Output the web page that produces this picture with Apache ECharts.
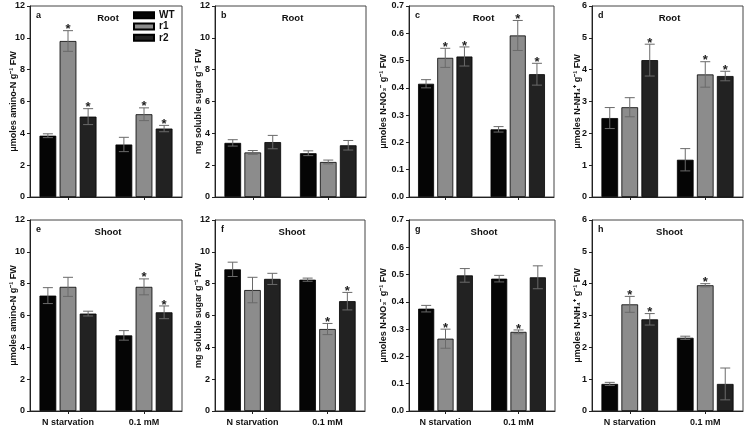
<!DOCTYPE html>
<html><head><meta charset="utf-8">
<script src="https://cdn.jsdelivr.net/npm/echarts@6/dist/echarts.min.js"></script>
<style>html,body{margin:0;padding:0;background:#fff}#c{width:745px;height:430px}</style>
</head><body><div id="c"></div>
<script>
const categories = ['N starvation', '0.1 mM'];
const seriesNames = ['WT', 'r1', 'r2'];
// means per series [WT, r1, r2], each [N starvation, 0.1 mM]
const aMean = [[3.85, 3.3], [9.8, 5.2], [5.05, 4.3]];
const aErr  = [[0.12, 0.45], [0.65, 0.4], [0.5, 0.2]];
const aStar = [[0, 0], [1, 1], [1, 1]];
const bMean = [[3.4, 2.75], [2.8, 2.2], [3.45, 3.25]];
const bErr  = [[0.2, 0.15], [0.12, 0.12], [0.42, 0.3]];
const bStar = [[0, 0], [0, 0], [0, 0]];
const cMean = [[0.415, 0.248], [0.51, 0.592], [0.515, 0.45]];
const cErr  = [[0.015, 0.01], [0.035, 0.055], [0.035, 0.04]];
const cStar = [[0, 0], [1, 1], [1, 1]];
const dMean = [[2.48, 1.17], [2.82, 3.85], [4.3, 3.8]];
const dErr  = [[0.33, 0.35], [0.3, 0.4], [0.5, 0.15]];
const dStar = [[0, 0], [0, 1], [1, 1]];
const eMean = [[7.25, 4.75], [7.8, 7.8], [6.12, 6.2]];
const eErr  = [[0.5, 0.3], [0.6, 0.5], [0.15, 0.4]];
const eStar = [[0, 0], [0, 1], [0, 1]];
const fMean = [[8.9, 8.25], [7.6, 5.15], [8.3, 6.9]];
const fErr  = [[0.45, 0.1], [0.8, 0.35], [0.35, 0.55]];
const fStar = [[0, 0], [0, 1], [0, 1]];
const gMean = [[0.375, 0.485], [0.265, 0.29], [0.497, 0.49]];
const gErr  = [[0.012, 0.012], [0.035, 0.007], [0.025, 0.042]];
const gStar = [[0, 0], [1, 1], [0, 0]];
const hMean = [[0.85, 2.3], [3.35, 3.95], [2.88, 0.85]];
const hErr  = [[0.05, 0.05], [0.25, 0.05], [0.18, 0.5]];
const hStar = [[0, 0], [1, 1], [1, 0]];

const FONT = "'Liberation Sans', Arial, sans-serif";
const barColors = ['#050505', '#8c8c8c', '#222222'];
const panels = [
  {letter:'a', title:'Root',  mean:aMean, err:aErr, star:aStar, max:12,  interval:2,   dec:0, name:'μmoles amino-N g⁻¹ FW',   left:30,  width:152, top:6,   gap:12},
  {letter:'b', title:'Root',  mean:bMean, err:bErr, star:bStar, max:12,  interval:2,   dec:0, name:'mg soluble sugar g⁻¹ FW', left:215, width:151, top:6,   gap:12},
  {letter:'c', title:'Root',  mean:cMean, err:cErr, star:cStar, max:0.7, interval:0.1, dec:1, name:'μmoles N-NO₃⁻ g⁻¹ FW',    left:409, width:145, top:6,   gap:21},
  {letter:'d', title:'Root',  mean:dMean, err:dErr, star:dStar, max:6,   interval:1,   dec:0, name:'μmoles N-NH₄⁺ g⁻¹ FW',    left:592, width:151, top:6,   gap:10},
  {letter:'e', title:'Shoot', mean:eMean, err:eErr, star:eStar, max:12,  interval:2,   dec:0, name:'μmoles amino-N g⁻¹ FW',   left:30,  width:152, top:220, gap:12},
  {letter:'f', title:'Shoot', mean:fMean, err:fErr, star:fStar, max:12,  interval:2,   dec:0, name:'mg soluble sugar g⁻¹ FW', left:215, width:150, top:220, gap:12},
  {letter:'g', title:'Shoot', mean:gMean, err:gErr, star:gStar, max:0.7, interval:0.1, dec:1, name:'μmoles N-NO₃⁻ g⁻¹ FW',    left:409, width:146, top:220, gap:21},
  {letter:'h', title:'Shoot', mean:hMean, err:hErr, star:hStar, max:6,   interval:1,   dec:0, name:'μmoles N-NH₄⁺ g⁻¹ FW',    left:592, width:151, top:220, gap:10}
];
const PH = 191;
const CAT_GAP = 0.25, BAR_GAP = 0.2;

const grid = [], xAxis = [], yAxis = [], series = [], title = [];
panels.forEach((p, i) => {
  grid.push({left:p.left, top:p.top, width:p.width, height:PH, show:true, borderColor:'#444', borderWidth:1, containLabel:false});
  const bottomRow = p.top > 100;
  xAxis.push({type:'category', gridIndex:i, data:categories,
    axisLine:{lineStyle:{color:'#222', width:1}},
    axisTick:{show:true, alignWithLabel:true, length:3, lineStyle:{color:'#222'}},
    axisLabel:{show:bottomRow, color:'#111', fontFamily:FONT, fontWeight:'bold', fontSize:9, margin:7}});
  yAxis.push({type:'value', gridIndex:i, min:0, max:p.max, interval:p.interval,
    name:p.name, nameLocation:'middle', nameGap:p.gap, nameRotate:90, nameMoveOverlap:false,
    nameTextStyle:{color:'#111', fontFamily:FONT, fontWeight:'bold', fontSize:9},
    splitLine:{show:false},
    axisLine:{show:true, lineStyle:{color:'#222', width:1}},
    axisTick:{show:true, length:3, lineStyle:{color:'#222'}},
    axisLabel:{color:'#111', fontFamily:FONT, fontWeight:'bold', fontSize:9, margin:5,
      formatter: v => v.toFixed(p.dec)}});
  seriesNames.forEach((sn, s) => {
    series.push({type:'bar', name:sn, xAxisIndex:i, yAxisIndex:i, data:p.mean[s],
      barCategoryGap:(CAT_GAP*100)+'%', barGap:(BAR_GAP*100)+'%',
      itemStyle:{color:barColors[s], borderColor:'#000', borderWidth:0.8}, silent:true});
  });
  const errData = [];
  seriesNames.forEach((sn, s) => {
    categories.forEach((c, k) => {
      errData.push([k, p.mean[s][k], p.err[s][k], s, p.star[s][k]]);
    });
  });
  series.push({type:'custom', xAxisIndex:i, yAxisIndex:i, data:errData, z:5, silent:true,
    encode:{x:0, y:1},
    renderItem:(params, api) => {
      const k = api.value(0), v = api.value(1), e = api.value(2), s = api.value(3), st = api.value(4);
      const band = api.size([1, 0])[0];
      const bw = band * (1 - CAT_GAP) / (3 + 2 * BAR_GAP);
      const cx = api.coord([k, 0])[0] + (s - 1) * bw * (1 + BAR_GAP);
      const yt = api.coord([k, v + e])[1], yb = api.coord([k, Math.max(v - e, 0)])[1];
      const ls = {stroke:'#6a6a6a', lineWidth:1};
      const ch = [
        {type:'line', shape:{x1:cx, y1:yt, x2:cx, y2:yb}, style:ls},
        {type:'line', shape:{x1:cx - 5, y1:yt, x2:cx + 5, y2:yt}, style:ls},
        {type:'line', shape:{x1:cx - 5, y1:yb, x2:cx + 5, y2:yb}, style:ls}
      ];
      if (st) ch.push({type:'text', style:{text:'*', x:cx, y:yt - 1, align:'center', verticalAlign:'middle',
        fill:'#222', font:'bold 13px ' + FONT}});
      return {type:'group', children:ch};
    }});
  title.push({text:p.letter, left:p.left + 4, top:p.top + 3, padding:[2, 2], textStyle:{fontFamily:FONT, fontWeight:'bold', fontSize:9, color:'#111'}});
  title.push({text:p.title, left:p.left + p.width / 2, top:p.top + 5, padding:[2, 2], textAlign:'center',
    textStyle:{fontFamily:FONT, fontWeight:'bold', fontSize:9.5, color:'#111'}});
});

const chart = echarts.init(document.getElementById('c'), null, {renderer:'canvas'});
chart.setOption({
  animation:false,
  backgroundColor:'#fff',
  title, grid, xAxis, yAxis, series,
  legend:{data:seriesNames, orient:'vertical', left:133, top:9.5, padding:0, itemWidth:20, itemHeight:6, itemGap:0,
    icon:'rect', textStyle:{fontFamily:FONT, fontWeight:'bold', fontSize:10, lineHeight:11.3, color:'#111'}, selectedMode:false}
});
</script></body></html>
